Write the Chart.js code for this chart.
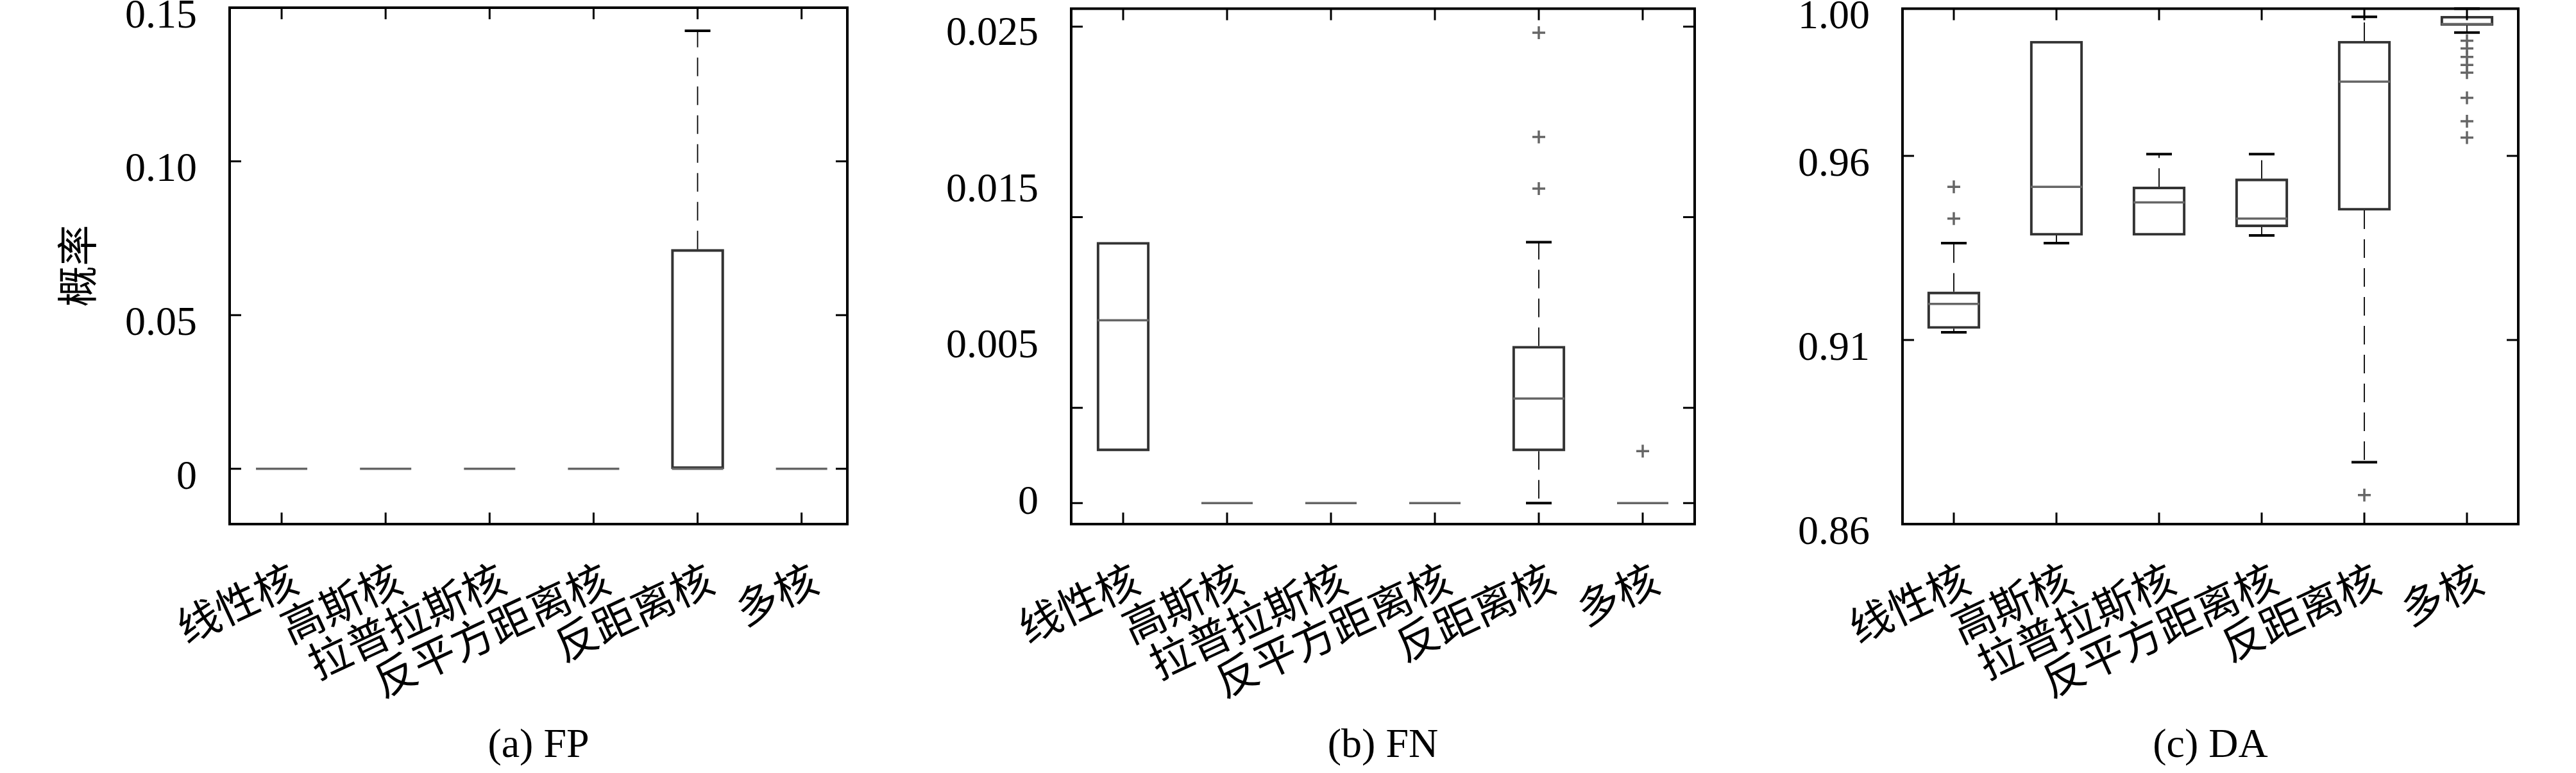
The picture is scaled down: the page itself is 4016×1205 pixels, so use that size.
<!DOCTYPE html>
<html>
<head>
<meta charset="utf-8">
<script src="https://cdn.jsdelivr.net/npm/chart.js@4.4.1/dist/chart.umd.min.js"></script>
<style>
  html, body { margin: 0; padding: 0; background: #fff; }
  #wrap { position: relative; width: 4016px; height: 1205px; background: #fff; }
  canvas { position: absolute; top: 0; }
</style>
</head>
<body>
<div id="wrap">
  <canvas id="fp" width="1340" height="1205" style="left:0;width:1340px;height:1205px"></canvas>
  <canvas id="fn" width="1340" height="1205" style="left:1340px;width:1340px;height:1205px"></canvas>
  <canvas id="da" width="1336" height="1205" style="left:2680px;width:1336px;height:1205px"></canvas>
</div>
<script>
const categories = ["线性核", "高斯核", "拉普拉斯核", "反平方距离核", "反距离核", "多核"];

// (a) FP
const fpQ1 = [0, 0, 0, 0, 0, 0];
const fpMedian = [0, 0, 0, 0, 0, 0];
const fpQ3 = [0, 0, 0, 0, 0.0714, 0];
const fpLow = [0, 0, 0, 0, 0, 0];
const fpHigh = [0, 0, 0, 0, 0.1425, 0];
const fpOutliers = [];
const fpTicks = [0, 0.05, 0.10, 0.15];
const fpTickLabels = ["0", "0.05", "0.10", "0.15"];

// (b) FN
const fnQ1 = [0.00273, 0, 0, 0, 0.00273, 0];
const fnMedian = [0.00959, 0, 0, 0, 0.00549, 0];
const fnQ3 = [0.01369, 0, 0, 0, 0.00824, 0];
const fnLow = [0.00273, 0, 0, 0, 0, 0];
const fnHigh = [0.01369, 0, 0, 0, 0.01369, 0];
const fnOutliers = [[5, 0.02468], [5, 0.01921], [5, 0.01650], [6, 0.00273]];
const fnTicks = [0, 0.005, 0.015, 0.025];
const fnLabelPos = [0, 0.0082, 0.0164, 0.0246];
const fnTickLabels = ["0", "0.005", "0.015", "0.025"];

// (c) DA
const daQ1 = [0.9131, 0.9384, 0.9384, 0.9407, 0.9452, 0.9954];
const daMedian = [0.9198, 0.9516, 0.9474, 0.9430, 0.9802, 0.9958];
const daQ3 = [0.9231, 0.9912, 0.9516, 0.9538, 0.9912, 0.9980];
const daLow = [0.9121, 0.9363, 0.9384, 0.9384, 0.8768, 0.9935];
const daHigh = [0.9363, 0.9912, 0.9605, 0.9605, 0.9978, 1.0];
const daOutliers = [
  [1, 0.9516], [1, 0.9430], [5, 0.8679],
  [6, 0.9913], [6, 0.9892], [6, 0.9869], [6, 0.9847], [6, 0.9826],
  [6, 0.9758], [6, 0.9694], [6, 0.9650]
];
const daTicks = [0.86, 0.91, 0.96, 1.00];
const daTickLabels = ["0.86", "0.91", "0.96", "1.00"];

const numFont = { family: "'Liberation Serif', 'DejaVu Serif', serif", size: 64 };
const cjkFont = { family: "'Noto Sans CJK SC', sans-serif", size: 64 };

function makePanel(id, p) {
  // whiskers, medians and caps, placed with the chart's own scales
  const boxPlugin = {
    id: "boxParts",
    beforeDatasetsDraw(chart) {
      const { ctx, scales: { x, y } } = chart;
      ctx.save();
      ctx.strokeStyle = "#000";
      ctx.lineWidth = 1.8;
      ctx.setLineDash([29, 16]);
      p.q1.forEach((v, i) => {
        const px = x.getPixelForValue(i + 1);
        if (p.hi[i] > p.q3[i]) {
          ctx.beginPath();
          ctx.moveTo(px, y.getPixelForValue(p.q3[i]));
          ctx.lineTo(px, y.getPixelForValue(p.hi[i]));
          ctx.stroke();
        }
        if (p.lo[i] < v) {
          ctx.beginPath();
          ctx.moveTo(px, y.getPixelForValue(v));
          ctx.lineTo(px, y.getPixelForValue(p.lo[i]));
          ctx.stroke();
        }
      });
      ctx.restore();
    },
    afterDatasetsDraw(chart) {
      const { ctx, scales: { x, y } } = chart;
      ctx.save();
      p.med.forEach((v, i) => {
        const px = x.getPixelForValue(i + 1);
        ctx.strokeStyle = "#000";
        ctx.lineWidth = 4;
        if (p.hi[i] > p.q3[i]) {
          const py = y.getPixelForValue(p.hi[i]);
          ctx.beginPath(); ctx.moveTo(px - 20, py); ctx.lineTo(px + 20, py); ctx.stroke();
        }
        if (p.lo[i] < p.q1[i]) {
          const py = y.getPixelForValue(p.lo[i]);
          ctx.beginPath(); ctx.moveTo(px - 20, py); ctx.lineTo(px + 20, py); ctx.stroke();
        }
        ctx.strokeStyle = "#666";
        ctx.lineWidth = 3.5;
        const my = y.getPixelForValue(v);
        ctx.beginPath(); ctx.moveTo(px - 40, my); ctx.lineTo(px + 40, my); ctx.stroke();
      });
      ctx.restore();
    },
    afterDraw(chart) {
      const { ctx, chartArea: a, scales: { x, y } } = chart;
      ctx.save();
      ctx.strokeStyle = "#000";
      ctx.lineWidth = 3;
      const t = 18;
      p.ticks.forEach(v => {
        const py = y.getPixelForValue(v);
        ctx.beginPath();
        ctx.moveTo(a.left, py); ctx.lineTo(a.left + t, py);
        ctx.moveTo(a.right, py); ctx.lineTo(a.right - t, py);
        ctx.stroke();
      });
      categories.forEach((c, i) => {
        const px = x.getPixelForValue(i + 1);
        ctx.beginPath();
        ctx.moveTo(px, a.bottom); ctx.lineTo(px, a.bottom - t);
        ctx.moveTo(px, a.top); ctx.lineTo(px, a.top + t);
        ctx.stroke();
      });
      ctx.lineWidth = 4;
      ctx.strokeRect(a.left, a.top, a.right - a.left, a.bottom - a.top);
      ctx.restore();
    }
  };

  new Chart(document.getElementById(id), {
    type: "bar",
    data: {
      datasets: [
        {
          type: "bar",
          data: categories.map((c, i) => ({ x: i + 1, y: [p.q1[i], p.q3[i]] })),
          backgroundColor: "rgba(255,255,255,0)",
          borderColor: "#333",
          borderWidth: 3.5,
          borderSkipped: false,
          barThickness: 82
        },
        {
          type: "scatter",
          data: p.out.map(o => ({ x: o[0], y: o[1] })),
          pointStyle: "cross",
          radius: 10,
          borderColor: "#666",
          borderWidth: 3.5
        }
      ]
    },
    options: {
      responsive: false,
      animation: false,
      devicePixelRatio: 1,
      layout: { padding: { top: 12, right: p.padRight, left: 0, bottom: 0 } },
      plugins: { legend: { display: false }, tooltip: { enabled: false } },
      scales: {
        x: {
          type: "linear",
          min: p.xMin,
          max: p.xMax,
          offset: false,
          grid: { display: false, drawTicks: false },
          border: { display: false },
          afterBuildTicks: s => { s.ticks = categories.map((c, i) => ({ value: i + 1 })); },
          afterFit: s => {
            s.height = 388;
            s.paddingLeft = 0; s.paddingRight = 0;
          },
          ticks: {
            autoSkip: false,
            minRotation: 25,
            maxRotation: 25,
            padding: 45,
            labelOffset: 20,
            color: "#000",
            font: { family: cjkFont.family, size: 66 },
            callback: v => categories[v - 1]
          },
          title: {
            display: true,
            text: p.caption,
            color: "#000",
            font: numFont,
            padding: { top: 0, bottom: 3 }
          }
        },
        y: {
          min: p.yMin,
          max: p.yMax,
          grid: { display: false, drawTicks: false },
          border: { display: false },
          afterBuildTicks: s => { s.ticks = p.labelPos.map(v => ({ value: v })); },
          afterFit: s => {
            s.width = p.yWidth;
            s.paddingTop = 0; s.paddingBottom = 0;
          },
          ticks: {
            padding: 51,
            labelOffset: p.labelOffset,
            color: "#000",
            font: numFont,
            callback: (v, i) => p.labels[i]
          },
          title: {
            display: !!p.yTitle,
            text: p.yTitle || "",
            color: "#000",
            font: cjkFont,
            padding: { top: 81, bottom: 0 }
          }
        }
      }
    },
    plugins: [boxPlugin]
  });
}

makePanel("fp", {
  q1: fpQ1, med: fpMedian, q3: fpQ3, lo: fpLow, hi: fpHigh, out: fpOutliers,
  ticks: fpTicks, labelPos: fpTicks, labels: fpTickLabels,
  yMin: -0.018, yMax: 0.15, xMin: 0.5, xMax: 6.44,
  yWidth: 358, padRight: 19, labelOffset: 14,
  caption: "(a) FP", yTitle: "概率"
});
makePanel("fn", {
  q1: fnQ1, med: fnMedian, q3: fnQ3, lo: fnLow, hi: fnHigh, out: fnOutliers,
  ticks: fnTicks, labelPos: fnLabelPos, labels: fnTickLabels,
  yMin: -0.0011, yMax: 0.02594, xMin: 0.5, xMax: 6.5,
  yWidth: 330, padRight: 38, labelOffset: 0,
  caption: "(b) FN"
});
makePanel("da", {
  q1: daQ1, med: daMedian, q3: daQ3, lo: daLow, hi: daHigh, out: daOutliers,
  ticks: daTicks, labelPos: daTicks, labels: daTickLabels,
  yMin: 0.86, yMax: 1.0, xMin: 0.5, xMax: 6.5,
  yWidth: 286, padRight: 90, labelOffset: 14,
  caption: "(c) DA"
});
</script>
</body>
</html>
